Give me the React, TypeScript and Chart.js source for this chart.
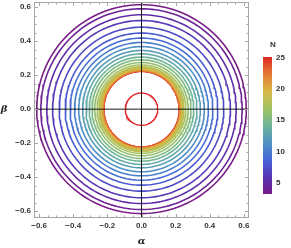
import React, { useEffect, useRef } from "react";
import { Chart, registerables } from "chart.js";

Chart.register(...registerables);

// Parameter N of each contour and the radius
const N_VALUES = [3, 4, 5, 6, 7, 8, 9, 10, 11, 12, 13, 14, 15, 16, 17, 18, 18.5, 19, 19.5, 20, 20.5, 21, 21.5, 22, 22.5, 23, 23.5, 24, 24.5, 25];
const RADII = [0.614, 0.59, 0.555, 0.521, 0.482, 0.447, 0.418, 0.392, 0.368, 0.345, 0.325, 0.306, 0.29, 0.274, 0.26, 0.249, 0.245, 0.241, 0.238, 0.235, 0.233, 0.231, 0.229, 0.228, 0.227, 0.226, 0.225, 0.224, 0.223, 0.222];
const INNER_RADIUS = [0.095];
const X_TICKS = [-0.6, -0.4, -0.2, 0, 0.2, 0.4, 0.6];
const X_TICK_LABELS = ["\u22120.6", "\u22120.4", "\u22120.2", "0.0", "0.2", "0.4", "0.6"];
const Y_TICKS = [-0.6, -0.4, -0.2, 0, 0.2, 0.4, 0.6];
const Y_TICK_LABELS = ["\u22120.6", "\u22120.4", "\u22120.2", "0.0", "0.2", "0.4", "0.6"];
const CBAR_TICKS = [5, 10, 15, 20, 25];
const CBAR_MIN = 3;
const CBAR_MAX = 25;

const RAINBOW: [number, number, number, number][] = [
  [0.0, 120, 28, 134],
  [0.12, 88, 50, 180],
  [0.25, 70, 100, 215],
  [0.38, 80, 150, 195],
  [0.5, 110, 180, 150],
  [0.62, 160, 195, 100],
  [0.75, 215, 185, 70],
  [0.88, 230, 120, 50],
  [1.0, 220, 40, 38],
];

function rainbow(t: number): string {
  t = Math.max(0, Math.min(1, t));
  for (let i = 0; i < RAINBOW.length - 1; i++) {
    const a = RAINBOW[i];
    const b = RAINBOW[i + 1];
    if (t <= b[0]) {
      const f = (t - a[0]) / (b[0] - a[0]);
      const r = Math.round(a[1] + f * (b[1] - a[1]));
      const g = Math.round(a[2] + f * (b[2] - a[2]));
      const bl = Math.round(a[3] + f * (b[3] - a[3]));
      return `rgb(${r},${g},${bl})`;
    }
  }
  return "rgb(220,40,38)";
}

function circle(r: number) {
  const pts: { x: number; y: number }[] = [];
  for (let i = 0; i <= 180; i++) {
    const a = (i / 180) * Math.PI * 2;
    pts.push({ x: r * Math.cos(a), y: r * Math.sin(a) });
  }
  return pts;
}

const framePlugin = {
  id: "framePlugin",
  afterDatasetsDraw(chart: any) {
    const { ctx, chartArea: ca, scales } = chart;
    const xs = scales.x;
    const ys = scales.y;
    ctx.save();
    // axes through origin
    ctx.strokeStyle = "#000";
    ctx.lineWidth = 0.9;
    const x0 = xs.getPixelForValue(0);
    const y0 = ys.getPixelForValue(0);
    ctx.beginPath();
    ctx.moveTo(ca.left, y0);
    ctx.lineTo(ca.right, y0);
    ctx.moveTo(x0, ca.top);
    ctx.lineTo(x0, ca.bottom);
    ctx.stroke();
    // frame
    ctx.strokeStyle = "#a6a6a6";
    ctx.lineWidth = 1;
    ctx.strokeRect(ca.left + 0.5, ca.top + 0.5, ca.right - ca.left - 1, ca.bottom - ca.top - 1);
    // ticks
    ctx.beginPath();
    for (let k = -13; k <= 13; k++) {
      const v = k * 0.05;
      const major = k % 4 === 0;
      const len = major ? 4 : 2.5;
      const px = Math.round(xs.getPixelForValue(v)) + 0.5;
      if (px > ca.left + 1 && px < ca.right - 1) {
        ctx.moveTo(px, ca.bottom);
        ctx.lineTo(px, ca.bottom - len);
        ctx.moveTo(px, ca.top);
        ctx.lineTo(px, ca.top + len);
      }
      const py = Math.round(ys.getPixelForValue(v)) + 0.5;
      if (py > ca.top + 1 && py < ca.bottom - 1) {
        ctx.moveTo(ca.left, py);
        ctx.lineTo(ca.left + len, py);
        ctx.moveTo(ca.right, py);
        ctx.lineTo(ca.right - len, py);
      }
    }
    ctx.stroke();
    // tick labels
    ctx.fillStyle = "#333";
    ctx.font = "bold 8px 'Liberation Sans', Arial, sans-serif";
    ctx.textAlign = "center";
    ctx.textBaseline = "middle";
    X_TICKS.forEach((v, i) => {
      ctx.fillText(X_TICK_LABELS[i], xs.getPixelForValue(v), ca.bottom + 7.5);
    });
    ctx.textAlign = "right";
    Y_TICKS.forEach((v, i) => {
      ctx.fillText(Y_TICK_LABELS[i], ca.left - 3, ys.getPixelForValue(v));
    });
    // axis titles
    ctx.fillStyle = "#222";
    ctx.font = "italic bold 10px 'DejaVu Serif', serif";
    ctx.textAlign = "center";
    ctx.fillText("\u03b1", x0, 241);
    ctx.fillText("\u03b2", 4, y0);
    // colorbar
    const cbL = 263;
    const cbW = 9;
    const cbTop = 57;
    const cbBot = 194;
    const grad = ctx.createLinearGradient(0, cbBot, 0, cbTop);
    for (let i = 0; i <= 20; i++) {
      grad.addColorStop(i / 20, rainbow(i / 20));
    }
    ctx.fillStyle = grad;
    ctx.fillRect(cbL, cbTop, cbW, cbBot - cbTop);
    ctx.fillStyle = "#333";
    ctx.font = "bold 8px 'Liberation Sans', Arial, sans-serif";
    ctx.textAlign = "left";
    CBAR_TICKS.forEach((v) => {
      const py = cbBot - ((v - CBAR_MIN) / (CBAR_MAX - CBAR_MIN)) * (cbBot - cbTop);
      ctx.fillText(String(v), cbL + cbW + 4, py + 1);
    });
    ctx.textAlign = "center";
    ctx.fillText("N", cbL + 10, 45);
    ctx.restore();
  },
};

export default function App() {
  const ref = useRef<HTMLCanvasElement>(null);
  useEffect(() => {
    document.body.style.margin = "0";
    const datasets: any[] = N_VALUES.map((n, i) => ({
      label: `N=${n}`,
      data: circle(RADII[i]),
      showLine: true,
      borderColor: rainbow((n - CBAR_MIN) / (CBAR_MAX - CBAR_MIN)),
      borderWidth: 1.6,
      pointRadius: 0,
      fill: false,
      tension: 0,
    }));
    datasets.push({
      label: "inner",
      data: circle(INNER_RADIUS[0]),
      showLine: true,
      borderColor: "rgb(225,30,35)",
      borderWidth: 1.3,
      pointRadius: 0,
      fill: false,
      tension: 0,
    });
    const chart = new Chart(ref.current!, {
      type: "scatter",
      data: { datasets },
      options: {
        animation: false,
        responsive: false,
        layout: { padding: { left: 34, right: 42, top: 2, bottom: 30 } },
        plugins: { legend: { display: false }, tooltip: { enabled: false } },
        scales: {
          x: { type: "linear", min: -0.63, max: 0.63, display: false },
          y: { type: "linear", min: -0.64, max: 0.63, display: false },
        },
      },
      plugins: [framePlugin],
    });
    return () => chart.destroy();
  }, []);
  return (
    <div style={{ position: "fixed", left: 0, top: 0, width: 291, height: 248, background: "#fff" }}>
      <canvas ref={ref} width={291} height={248} />
    </div>
  );
}
